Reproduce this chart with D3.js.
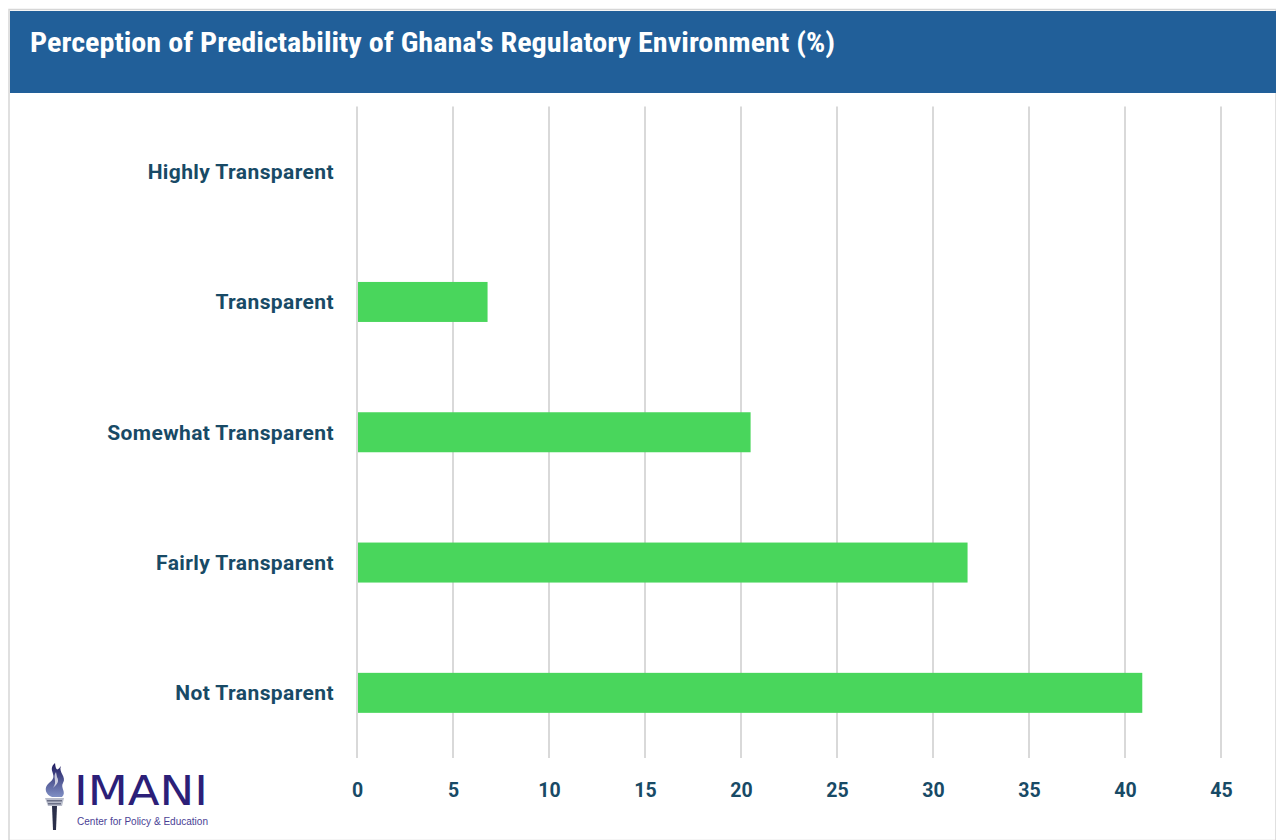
<!DOCTYPE html>
<html>
<head>
<meta charset="utf-8">
<script src="https://cdn.jsdelivr.net/npm/d3@7"></script>
<style>
  html, body { margin: 0; padding: 0; background: #ffffff; }
  svg { display: block; }
</style>
</head>
<body>
<svg id="chart" width="1276" height="840"></svg>
<script>
// ---- data ----
const title = "Perception of Predictability of Ghana's Regulatory Environment (%)";
const categories = ["Highly Transparent", "Transparent", "Somewhat Transparent", "Fairly Transparent", "Not Transparent"];
const values = [0, 6.8, 20.5, 31.8, 40.9];
const xTicks = [0, 5, 10, 15, 20, 25, 30, 35, 40, 45];
const logoName = "IMANI";
const logoSub = "Center for Policy & Education";

// ---- layout ----
const W = 1276, H = 840;
const svg = d3.select("#chart");
const labelColor = "#184a66";
const gridColor = "#d9d9d9";
const barColor = "#49d65c";
const headerColor = "#215f99";

// frame
svg.append("rect").attr("x", 9).attr("y", 9.5).attr("width", W - 9).attr("height", H - 9)
  .attr("fill", "#ffffff").attr("stroke", "#d6d6d6").attr("stroke-width", 1.5);
svg.append("rect").attr("x", 10).attr("y", 11).attr("width", W - 10).attr("height", 82)
  .attr("fill", headerColor);
svg.append("text").attr("x", 30).attr("y", 52)
  .attr("fill", "#ffffff")
  .attr("font-family", "'Liberation Sans Narrow','Roboto Condensed',Roboto,'Liberation Sans',sans-serif")
  .attr("font-weight", "bold").attr("font-size", 28)
  .attr("textLength", 805).attr("lengthAdjust", "spacingAndGlyphs")
  .text(title);

// scales
const plotTop = 106.5, plotBottom = 758;
const x = d3.scaleLinear().domain([0, 45]).range([357, 1221]);
const y = d3.scaleBand().domain(categories).range([plotTop, plotBottom]).paddingInner(0.693).paddingOuter(0.3465);

// gridlines
svg.append("g").selectAll("line").data(xTicks).join("line")
  .attr("x1", d => x(d)).attr("x2", d => x(d))
  .attr("y1", plotTop).attr("y2", plotBottom)
  .attr("stroke", gridColor).attr("stroke-width", 2);

// bars
svg.append("g").selectAll("rect").data(categories).join("rect")
  .attr("x", x(0) + 1)
  .attr("y", d => y(d))
  .attr("width", (d, i) => Math.max(0, x(values[i]) - x(0) - 1))
  .attr("height", y.bandwidth())
  .attr("fill", barColor)
  .attr("display", (d, i) => values[i] > 0 ? null : "none");

// y axis labels
const yAxis = d3.axisLeft(y).tickSize(0).tickPadding(0);
const gy = svg.append("g").attr("transform", "translate(334,0)").call(yAxis);
gy.select(".domain").remove();
gy.selectAll("text")
  .attr("fill", labelColor)
  .attr("font-family", "Roboto,'Liberation Sans',sans-serif")
  .attr("font-weight", "bold").attr("font-size", 21)
  .attr("letter-spacing", 0.4)
  .attr("dy", "0.35em");

// x axis labels
const xAxis = d3.axisBottom(x).tickValues(xTicks).tickSize(0).tickPadding(0);
const gx = svg.append("g").attr("transform", "translate(0,783)").call(xAxis);
gx.select(".domain").remove();
gx.selectAll("text")
  .attr("fill", labelColor)
  .attr("font-family", "Roboto,'Liberation Sans',sans-serif")
  .attr("font-weight", "bold").attr("font-size", 19.5)
  .attr("dy", "0.71em");

// logo
const logo = svg.append("g");
const torchGrad = logo.append("defs").append("linearGradient").attr("id", "tg")
  .attr("x1", 0).attr("x2", 0).attr("y1", 0).attr("y2", 1);
torchGrad.append("stop").attr("offset", "0%").attr("stop-color", "#1e1a5e");
torchGrad.append("stop").attr("offset", "100%").attr("stop-color", "#7f8fc4");
// flame
logo.append("path")
  .attr("d", "M55,763 C46,771 60,775 49,783 C43,788 46,795 52,797 L62,797 C67,792 60,788 63,783 C67,777 58,772 61,766 C58,770 56,772 55,763 Z")
  .attr("fill", "url(#tg)");
logo.append("path")
  .attr("d", "M56,772 C52,778 58,781 53,788 C56,785 60,782 57,777 Z")
  .attr("fill", "#ffffff").attr("opacity", 0.7);
// cup
logo.append("path").attr("d", "M45,798 L64,798 L62,806 L48,806 Z").attr("fill", "#b8bccb");
logo.append("rect").attr("x", 47).attr("y", 800).attr("width", 15).attr("height", 1.5).attr("fill", "#6a6f86");
logo.append("rect").attr("x", 48).attr("y", 803).attr("width", 13).attr("height", 1.5).attr("fill", "#6a6f86");
// handle
logo.append("path").attr("d", "M52,806 L57,806 L56,830 L53,830 Z").attr("fill", "#2b2f4a");
logo.append("text").attr("x", 74).attr("y", 805)
  .attr("fill", "#2c1f78")
  .attr("font-family", "'DejaVu Sans','Liberation Sans',sans-serif")
  .attr("font-size", 40).attr("font-weight", "normal")
  .attr("textLength", 134).attr("lengthAdjust", "spacingAndGlyphs")
  .text(logoName);
logo.append("text").attr("x", 77).attr("y", 825)
  .attr("fill", "#4b3f95")
  .attr("font-family", "'Liberation Sans Narrow','Liberation Sans',sans-serif")
  .attr("font-size", 10)
  .attr("textLength", 131).attr("lengthAdjust", "spacingAndGlyphs")
  .text(logoSub);
</script>
</body>
</html>
